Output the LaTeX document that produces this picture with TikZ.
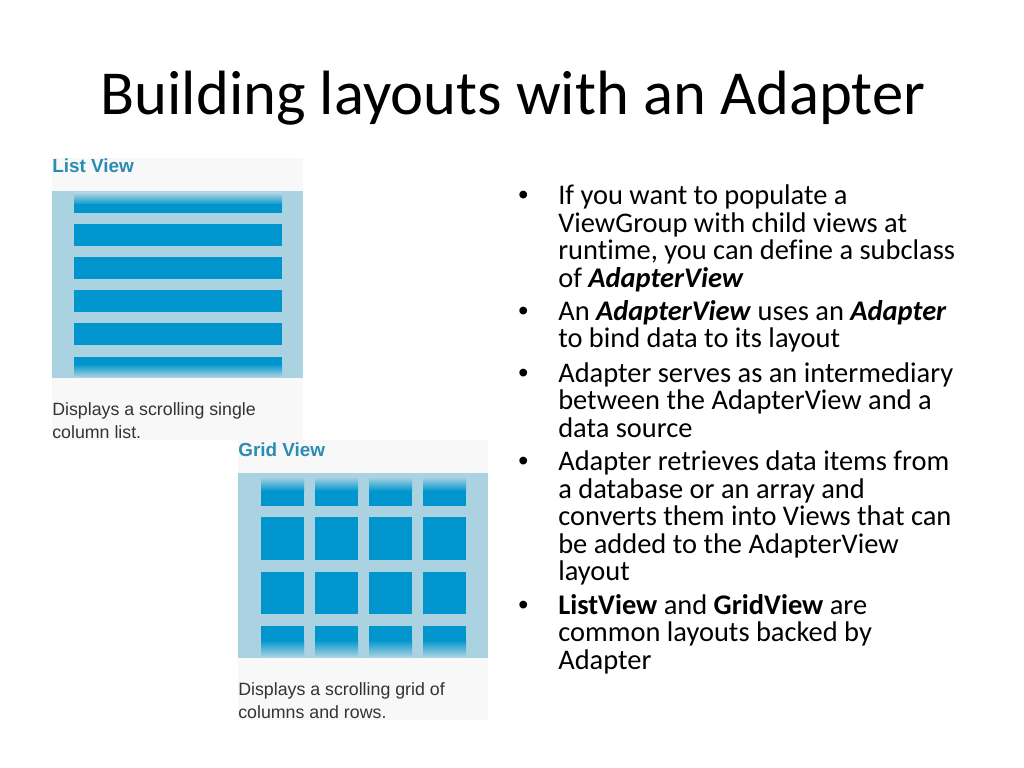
\documentclass[tikz,border=0pt]{standalone}
\usepackage{fontspec}
\setmainfont{Carlito}[Ligatures=NoCommon]
\newfontfamily\uifont{Liberation Sans}
\definecolor{panelbg}{HTML}{F8F8F8}
\definecolor{imgbg}{HTML}{ABD2E1}
\definecolor{blu}{HTML}{0096CD}
\definecolor{uititle}{HTML}{2B8CB2}
\definecolor{uitext}{HTML}{333333}
\tikzset{
  slidetitle/.style={anchor=base, font=\fontsize{44}{53}\selectfont, inner sep=0pt},
  bodyline/.style={anchor=base west, font=\fontsize{20}{24}\selectfont, inner sep=0pt},
  bulletmark/.style={anchor=base west, font=\uifont\fontsize{20}{24}\selectfont, inner sep=0pt},
  paneltitle/.style={anchor=base west, font=\uifont\bfseries\fontsize{13.3}{16}\selectfont, text=uititle, inner sep=0pt},
  panelcap/.style={anchor=base west, font=\uifont\fontsize{12.5}{15}\selectfont, text=uitext, inner sep=0pt},
}
\begin{document}
\begin{tikzpicture}[x=0.703125pt,y=-0.703125pt]
\useasboundingbox[fill=white] (0,0) rectangle (1024,768);

% title
\node[slidetitle] (title) at (513,115) {Building layouts with an Adapter};

% ---------- List View panel
\fill[panelbg] (52,158) rectangle (303,440);
\node[paneltitle] (listtitle) at (52,173) {List View};
\fill[imgbg] (52,191) rectangle (303,378);
\shade[top color=imgbg, bottom color=blu] (74,193) rectangle (282,205);
\fill[blu] (74,204.5) rectangle (282,213);
\foreach \y in {224,257,290,323}{
  \fill[blu] (74,\y) rectangle (282,\y+22);
}
\fill[blu] (74,357) rectangle (282,364.5);
\shade[top color=blu, bottom color=imgbg] (74,364) rectangle (282,377);
\node[panelcap] (listcap1) at (52,415) {Displays a scrolling single};
\node[panelcap] (listcap2) at (52,438) {column list.};

% ---------- Grid View panel
\fill[panelbg] (238,440) rectangle (488,720);
\node[paneltitle] (gridtitle) at (238,456) {Grid View};
\fill[imgbg] (238,473) rectangle (488,658);
\foreach \x in {261,315,369,423}{
  \shade[top color=imgbg, bottom color=blu] (\x,477) rectangle (\x+43,491);
  \fill[blu] (\x,490.5) rectangle (\x+43,506);
  \fill[blu] (\x,517) rectangle (\x+43,560);
  \fill[blu] (\x,572) rectangle (\x+43,614);
  \fill[blu] (\x,626) rectangle (\x+43,640.5);
  \shade[top color=blu, bottom color=imgbg] (\x,640) rectangle (\x+43,657);
}
\node[panelcap] (gridcap1) at (238,695) {Displays a scrolling grid of};
\node[panelcap] (gridcap2) at (238,718) {columns and rows.};

% ---------- bullets
\node[bulletmark] (b1) at (518,205) {•};
\node[bodyline] (p1a) at (558,205) {If you want to populate a};
\node[bodyline] (p1b) at (558,232.5) {ViewGroup with child views at};
\node[bodyline] (p1c) at (558,260) {runtime, you can define a subclass};
\node[bodyline] (p1d) at (558,287.5) {of \textbf{\textit{AdapterView}}};

\node[bulletmark] (b2) at (518,320.5) {•};
\node[bodyline] (p2a) at (558,320.5) {An \textbf{\textit{AdapterView}} uses an \textbf{\textit{Adapter}}};
\node[bodyline] (p2b) at (558,348) {to bind data to its layout};

\node[bulletmark] (b3) at (518,382) {•};
\node[bodyline] (p3a) at (558,382) {Adapter serves as an intermediary};
\node[bodyline] (p3b) at (558,409.5) {between the AdapterView and a};
\node[bodyline] (p3c) at (558,437) {data source};

\node[bulletmark] (b4) at (518,470.5) {•};
\node[bodyline] (p4a) at (558,470.5) {Adapter retrieves data items from};
\node[bodyline] (p4b) at (558,498) {a database or an array and};
\node[bodyline] (p4c) at (558,525.5) {converts them into Views that can};
\node[bodyline] (p4d) at (558,553) {be added to the AdapterView};
\node[bodyline] (p4e) at (558,580.5) {layout};

\node[bulletmark] (b5) at (518,614) {•};
\node[bodyline] (p5a) at (558,614) {\textbf{ListView} and \textbf{GridView} are};
\node[bodyline] (p5b) at (558,641.5) {common layouts backed by};
\node[bodyline] (p5c) at (558,669) {Adapter};
\end{tikzpicture}
\end{document}
